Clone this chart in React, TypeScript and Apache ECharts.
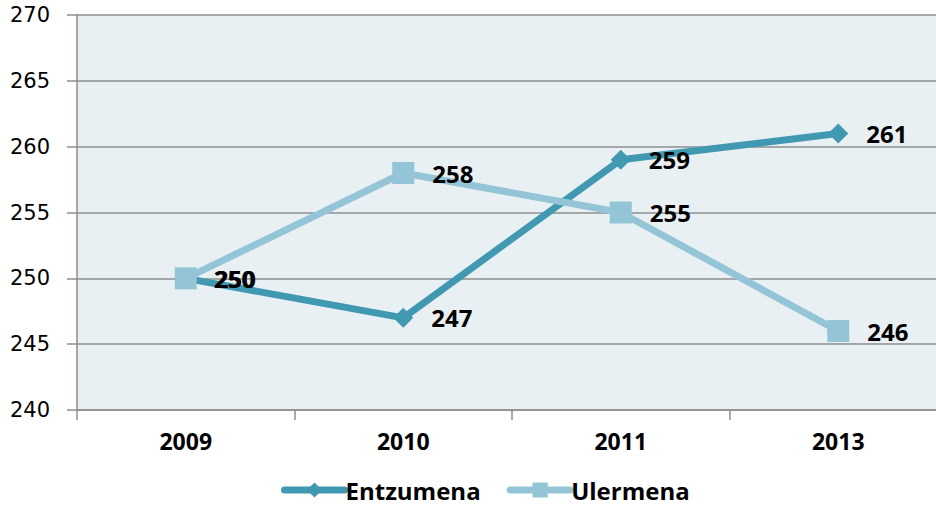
import React, { useEffect, useRef } from "react";
import * as echarts from "echarts";

const years = ["2009", "2010", "2011", "2013"];
const entzumena = [250, 247, 259, 261];
const ulermena = [250, 258, 255, 246];
const yMin = 240;
const yMax = 270;
const yStep = 5;

const DARK = "#4198B1";
const LIGHT = "#93C5D7";
const FONT = "'Open Sans', 'Liberation Sans', sans-serif";

export default function App() {
  const ref = useRef<HTMLDivElement>(null);
  useEffect(() => {
    if (!ref.current) return;
    const chart = echarts.init(ref.current, undefined, { renderer: "svg" });
    const label = {
      show: true,
      position: "right" as const,
      distance: 18,
      color: "#000",
      fontFamily: FONT,
      fontWeight: "bold" as const,
      fontSize: 24,
    };
    chart.setOption({
      animation: false,
      backgroundColor: "#fff",
      grid: {
        left: 77,
        top: 15,
        width: 870,
        height: 395,
        show: true,
        backgroundColor: "#E9F0F4",
        borderWidth: 0,
        outerBoundsMode: "none",
        containLabel: false,
      },
      legend: {
        left: 281,
        top: 478,
        padding: 0,
        itemWidth: 60,
        itemHeight: 19,
        itemGap: 26,
        lineStyle: { width: 7, cap: "round" },
        textStyle: {
          fontFamily: FONT,
          fontWeight: "bold",
          fontSize: 24,
          lineHeight: 24,
          color: "#000",
          padding: [0, 0, 0, -4],
        },
        data: ["Entzumena", "Ulermena"],
      },
      xAxis: {
        type: "category",
        data: years,
        axisLine: { lineStyle: { color: "#8E8E8E", width: 1.5 } },
        axisTick: { show: true, length: 10, lineStyle: { color: "#8E8E8E", width: 1.5 } },
        axisLabel: {
          margin: 19,
          color: "#000",
          fontFamily: FONT,
          fontWeight: "bold",
          fontSize: 23,
        },
      },
      yAxis: {
        type: "value",
        min: yMin,
        max: yMax,
        interval: yStep,
        axisLine: { show: true, lineStyle: { color: "#8E8E8E", width: 1.5 } },
        axisTick: { show: true, length: 10, lineStyle: { color: "#8E8E8E", width: 1.5 } },
        splitLine: { show: true, lineStyle: { color: "#8E8E8E", width: 1.5 } },
        axisLabel: {
          margin: 27,
          color: "#000",
          fontFamily: "'DejaVu Sans', sans-serif",
          fontSize: 21,
        },
      },
      series: [
        {
          name: "Entzumena",
          type: "line",
          data: entzumena,
          symbol: "diamond",
          symbolSize: 20,
          color: DARK,
          lineStyle: { color: DARK, width: 7 },
          itemStyle: { color: DARK },
          label,
        },
        {
          name: "Ulermena",
          type: "line",
          data: ulermena,
          symbol: "rect",
          symbolSize: 22,
          color: LIGHT,
          lineStyle: { color: LIGHT, width: 7 },
          itemStyle: { color: LIGHT },
          label,
        },
      ],
    });
    return () => chart.dispose();
  }, []);
  return (
    <div
      ref={ref}
      style={{ position: "fixed", left: 0, top: 0, width: 936, height: 506 }}
    />
  );
}
